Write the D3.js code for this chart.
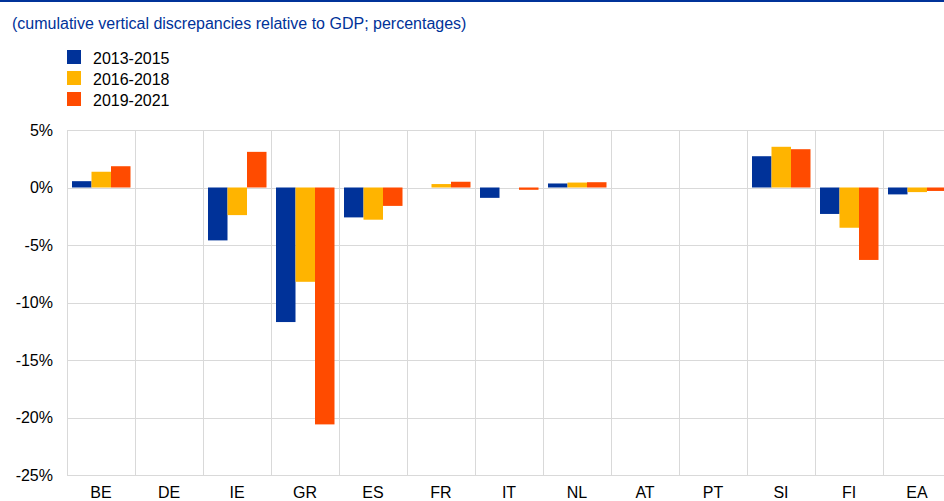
<!DOCTYPE html>
<html>
<head>
<meta charset="utf-8">
<script src="https://cdn.jsdelivr.net/npm/d3@7"></script>
<style>
    html, body { margin: 0; padding: 0; background: #fff; }
    svg { display: block; font-family: Arial, "Liberation Sans", sans-serif; }
    .tick text { font-size: 16px; fill: #000; }
</style>
</head>
<body>
<svg id="chart" width="944" height="501"></svg>
<script>
// ---- Data
const countries = ['BE', 'DE', 'IE', 'GR', 'ES', 'FR', 'IT', 'NL', 'AT', 'PT', 'SI', 'FI', 'EA'];
const seriesNames = ['2013-2015', '2016-2018', '2019-2021'];
const values2013 = [0.55, 0, -4.6, -11.7, -2.6, 0, -0.9, 0.35, 0, 0, 2.72, -2.3, -0.6];
const values2016 = [1.37, 0, -2.4, -8.2, -2.8, 0.3, 0, 0.43, 0, 0, 3.54, -3.5, -0.4];
const values2019 = [1.85, 0, 3.1, -20.6, -1.6, 0.5, -0.2, 0.46, 0, 0, 3.33, -6.3, -0.3];
const yTicks = [5, 0, -5, -10, -15, -20, -25];
const colors = ['#003299', '#FFB400', '#FF4B00'];

const svg = d3.select('#chart');
const width = 944;
const margens = { left: 67, top: 130, bottom: 26 };
const plotBottom = 475;
const cellWidth = 68;

// top rule + subtitle
svg.append('rect')
    .attr('x', 0).attr('y', 0)
    .attr('width', width).attr('height', 2)
    .attr('fill', '#003299');

svg.append('text')
    .attr('x', 12)
    .attr('y', 29)
    .attr('fill', '#003299')
    .style('font-size', '16px')
    .text('(cumulative vertical discrepancies relative to GDP; percentages)');

// ---- Legend
const legend = svg.append('g').attr('transform', 'translate(67, 50)');
seriesNames.forEach((name, i) => {
    legend.append('rect')
        .attr('x', 0)
        .attr('y', i * 21)
        .attr('width', 14)
        .attr('height', 14)
        .attr('fill', colors[i]);
    legend.append('text')
        .attr('x', 26)
        .attr('y', i * 21 + 14)
        .attr('fill', '#000')
        .style('font-size', '16px')
        .text(name);
});

// ---- Escalas
const mapX = d3.scaleBand()
    .domain(countries)
    .range([margens.left, margens.left + cellWidth * countries.length]);

const mapInner = d3.scaleBand()
    .domain(seriesNames)
    .range([5, 63.5]);

const mapY = d3.scaleLinear()
    .domain([-25, 5])
    .range([plotBottom, margens.top]);

// ---- Grid
const grid = svg.append('g').attr('stroke', '#d9d9d9').attr('stroke-width', 1);
yTicks.forEach(t => {
    grid.append('line')
        .attr('x1', margens.left).attr('x2', width)
        .attr('y1', Math.round(mapY(t)) + 0.5).attr('y2', Math.round(mapY(t)) + 0.5);
});
countries.forEach(c => {
    const x = Math.round(mapX(c)) + 0.5;
    grid.append('line')
        .attr('x1', x).attr('x2', x)
        .attr('y1', margens.top).attr('y2', plotBottom);
});

// ---- Eixos
const yAxis = d3.axisLeft(mapY)
    .tickValues(yTicks)
    .tickSize(0)
    .tickPadding(14)
    .tickFormat(d => d + '%');
svg.append('g')
    .attr('class', 'y axis')
    .attr('transform', `translate(${margens.left}, 0)`)
    .call(yAxis)
    .call(g => g.select('.domain').remove());

const xAxis = d3.axisBottom(mapX).tickSize(0).tickPadding(12);
svg.append('g')
    .attr('class', 'x axis')
    .attr('transform', `translate(0, ${plotBottom})`)
    .call(xAxis)
    .call(g => g.select('.domain').remove());

// ---- Barras
const allSeries = [values2013, values2016, values2019];
const rows = [];
allSeries.forEach((vals, si) => {
    vals.forEach((v, ci) => {
        if (v !== 0) rows.push({ country: countries[ci], series: seriesNames[si], value: v, color: colors[si] });
    });
});

svg.append('g')
    .selectAll('rect')
    .data(rows)
    .enter()
    .append('rect')
    .attr('x', d => mapX(d.country) + mapInner(d.series))
    .attr('y', d => mapY(Math.max(0, d.value)))
    .attr('width', mapInner.bandwidth())
    .attr('height', d => Math.abs(mapY(d.value) - mapY(0)))
    .attr('fill', d => d.color);
</script>
</body>
</html>
